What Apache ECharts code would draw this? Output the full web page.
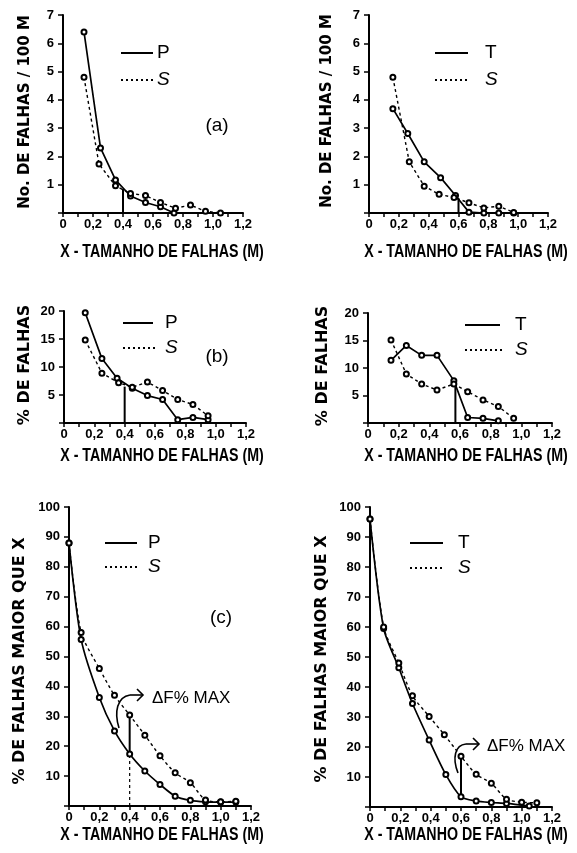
<!DOCTYPE html>
<html><head><meta charset="utf-8">
<script src="https://cdn.jsdelivr.net/npm/echarts@6/dist/echarts.min.js"></script>
<style>html,body{margin:0;padding:0;background:#fff}#c{width:577px;height:853px}</style>
</head><body><div id="c"></div>
<script>
// ---- data ----
const xTickLabels = ['0','0,2','0,4','0,6','0,8','1,0','1,2'];
// (a) No. de falhas / 100 m
const a1P = [[0.14,6.4],[0.25,2.3],[0.35,1.17],[0.45,0.6],[0.55,0.37],[0.65,0.22],[0.74,0]];
const a1S = [[0.14,4.8],[0.24,1.73],[0.35,0.96],[0.45,0.69],[0.55,0.62],[0.65,0.37],[0.75,0.17],[0.85,0.28],[0.95,0.06],[1.05,0]];
const a2T = [[0.16,3.69],[0.26,2.81],[0.37,1.81],[0.48,1.25],[0.58,0.62],[0.67,0.03],[0.77,0],[0.87,0],[0.97,0]];
const a2S = [[0.16,4.8],[0.27,1.81],[0.37,0.95],[0.47,0.66],[0.57,0.55],[0.67,0.36],[0.77,0.18],[0.87,0.24],[0.97,0.02]];
const a1Cut = [[0.4,0],[0.4,0.85]];
const a2Cut = [[0.6,0],[0.6,0.5]];
// (b) % de falhas
const b1P = [[0.14,19.7],[0.25,11.5],[0.35,8.0],[0.45,6.2],[0.55,4.9],[0.65,4.2],[0.75,0.6],[0.85,1.0],[0.95,0.6]];
const b1S = [[0.14,14.8],[0.25,8.9],[0.36,7.2],[0.45,6.4],[0.55,7.3],[0.65,5.8],[0.75,4.2],[0.85,3.3],[0.95,1.3]];
const b2T = [[0.15,11.4],[0.25,14.1],[0.35,12.3],[0.45,12.3],[0.56,7.7],[0.65,1.0],[0.75,0.85],[0.85,0.4]];
const b2S = [[0.15,15.1],[0.25,8.9],[0.35,7.1],[0.45,6.0],[0.56,7.1],[0.65,5.7],[0.75,4.2],[0.85,3.0],[0.95,0.85]];
const b1Cut = [[0.4,0],[0.4,6.5]];
const b2Cut = [[0.57,0],[0.57,7.2]];
// (c) % de falhas maior que X
const c1P = [[0,88],[0.08,55.7],[0.2,36.3],[0.3,25.1],[0.4,17.4],[0.5,11.7],[0.6,7.2],[0.7,3.3],[0.8,1.9],[0.9,1.4],[1.0,1.3],[1.1,1.3]];
const c1S = [[0,88],[0.08,58],[0.2,46],[0.3,37],[0.4,30.4],[0.5,23.7],[0.6,16.8],[0.7,11.1],[0.8,7.8],[0.9,2.0],[1.0,1.4],[1.1,1.6]];
const c2T = [[0,96],[0.09,59.5],[0.19,46.4],[0.28,34.5],[0.39,22.3],[0.5,10.8],[0.6,3.4],[0.7,2.0],[0.8,1.5],[0.9,1.2],[1.05,0.3]];
const c2S = [[0,96],[0.09,60],[0.19,48],[0.28,37.1],[0.39,30.2],[0.49,24.1],[0.6,16.9],[0.7,10.9],[0.8,7.9],[0.9,2.6],[1.0,1.6],[1.1,1.4]];
const c1CutSolid = [[0.4,17.4],[0.4,30]];
const c1CutDash = [[0.4,0],[0.4,17.4]];
const c2Cut = [[0.6,3.4],[0.6,16.9]];
const yMax = [7,7,20,20,100,100];
const yStep = [1,1,5,5,10,10];

// ---- layout ----
const grids = [
  {left:63, top:15, width:180, height:198},
  {left:369, top:15, width:179, height:198},
  {left:64, top:311, width:182, height:112},
  {left:368, top:313, width:184, height:110},
  {left:69, top:507, width:182, height:299},
  {left:370, top:507, width:182, height:300}
];
const tickFont = "'Liberation Sans', Arial, sans-serif";
const titleFont = "'DejaVu Sans', Verdana, sans-serif";

const xAxes = grids.map((g,i)=>({
  type:'value', gridIndex:i, min:0, max:1.2, interval:0.1,
  axisLine:{lineStyle:{color:'#000', width:2}},
  axisTick:{length:4, lineStyle:{color:'#000', width:1.5}},
  splitLine:{show:false},
  axisLabel:{color:'#000', fontFamily:tickFont, fontWeight:'bold', fontSize:13, margin:5,
    formatter:v=>{const k=Math.round(v*10); return k%2===0? xTickLabels[k/2] : '';}}
}));
const yAxes = grids.map((g,i)=>({
  type:'value', gridIndex:i, min:0, max:yMax[i], interval:yStep[i],
  axisLine:{show:true, lineStyle:{color:'#000', width:2}},
  axisTick:{show:true, length:5, lineStyle:{color:'#000', width:1.5}},
  splitLine:{show:false},
  axisLabel:{color:'#000', fontFamily:tickFont, fontWeight:'bold', fontSize:13, margin:9,
    formatter:v=> v===0 ? '' : String(v)}
}));

function ser(data, idx, dashed){
  return {type:'line', data, xAxisIndex:idx, yAxisIndex:idx, smooth: idx>=4 ? 0.25 : false,
    symbol:'emptyCircle', symbolSize:5, animation:false, silent:true,
    lineStyle:{color:'#000', width: dashed?1.4:1.7, type: dashed?[3,3]:'solid'},
    itemStyle:{color:'#000', borderColor:'#000', borderWidth:1}};
}
function cut(data, idx, dashed){
  return {type:'line', data, xAxisIndex:idx, yAxisIndex:idx, symbol:'none', animation:false, silent:true,
    lineStyle:{color:'#000', width: dashed?1.2:2, type: dashed?[3,3]:'solid'}};
}
const series = [
  ser(a1P,0,false), ser(a1S,0,true), cut(a1Cut,0,false),
  ser(a2T,1,false), ser(a2S,1,true), cut(a2Cut,1,false),
  ser(b1P,2,false), ser(b1S,2,true), cut(b1Cut,2,false),
  ser(b2T,3,false), ser(b2S,3,true), cut(b2Cut,3,false),
  ser(c1P,4,false), ser(c1S,4,true), cut(c1CutSolid,4,false), cut(c1CutDash,4,true),
  ser(c2T,5,false), ser(c2S,5,true), cut(c2Cut,5,false)
];

// ---- annotations ----
const G = [];
function txt(t, x, y, font, opt){
  G.push(Object.assign({type:'text', x, y, silent:true,
    style:{text:t, font, fill:'#000', align:'center', verticalAlign:'middle', textAlign:'center', textVerticalAlign:'middle'}}, opt||{}));
}
function vtxt(t, x, y, font){ txt(t, x, y, font, {rotation:Math.PI/2}); }
function ln(x1,y1,x2,y2,dash,w){
  G.push({type:'line', silent:true, shape:{x1,y1,x2,y2}, style:{stroke:'#000', lineWidth:w||2, lineDash: dash?[2,3]:null}});
}
function legend(x1,x2,xt,y1,y2,name1){
  ln(x1,y1,x2,y1,false,2); ln(x1,y2,x2+2,y2,true,2);
  G.push({type:'text', x:xt, y:y1, silent:true, style:{text:name1, font:"19px 'Liberation Sans', Arial, sans-serif", fill:'#000', align:'left', verticalAlign:'middle', textAlign:'left', textVerticalAlign:'middle'}});
  G.push({type:'text', x:xt, y:y2, silent:true, style:{text:'S', font:"italic 19px 'Liberation Sans', Arial, sans-serif", fill:'#000', align:'left', verticalAlign:'middle', textAlign:'left', textVerticalAlign:'middle'}});
}
const xTitle = 'X - TAMANHO DE FALHAS (M)';
const xtFont = "bold 18px 'Liberation Sans', Arial, sans-serif";
const xtOpt = {scaleX:0.79};
txt(xTitle, 162, 252, xtFont, xtOpt); txt(xTitle, 466, 252, xtFont, xtOpt);
txt(xTitle, 162, 456, xtFont, xtOpt); txt(xTitle, 466, 456, xtFont, xtOpt);
txt(xTitle, 162, 835, xtFont, xtOpt); txt(xTitle, 466, 835, xtFont, xtOpt);
vtxt('No. DE FALHAS / 100 M', 25, 112, "bold 15px " + titleFont);
vtxt('No. DE FALHAS / 100 M', 327, 111, "bold 15px " + titleFont);
vtxt('% DE FALHAS', 25, 365, "bold 16px " + titleFont);
vtxt('% DE FALHAS', 323, 366, "bold 16px " + titleFont);
vtxt('% DE FALHAS MAIOR QUE X', 20, 661, "bold 16px " + titleFont);
vtxt('% DE FALHAS MAIOR QUE X', 322, 659, "bold 16px " + titleFont);
legend(121,153,157,53,80,'P');
legend(435,468,485,53,80,'T');
legend(123,153,165,323,348,'P');
legend(465,500,515,325,350,'T');
legend(105,137,148,543,567,'P');
legend(410,443,458,543,568,'T');
const lblFont = "19px 'Liberation Sans', Arial, sans-serif";
txt('(a)', 217, 126, lblFont);
txt('(b)', 217, 357, lblFont);
txt('(c)', 221, 618, lblFont);
// ΔF% MAX arrows
G.push({type:'bezierCurve', silent:true, shape:{x1:119,y1:728,cpx1:114,cpy1:712,cpx2:117,cpy2:697,x2:130,y2:695}, style:{stroke:'#000', lineWidth:1.6, fill:null}});
ln(130,695,143,695,false,1.6);
G.push({type:'polyline', silent:true, shape:{points:[[137,689],[143,695],[137,701]]}, style:{stroke:'#000', lineWidth:1.6, fill:null}});
G.push({type:'text', x:152, y:698, silent:true, style:{text:'ΔF% MAX', font:"17px 'Liberation Sans', Arial, sans-serif", fill:'#000', align:'left', verticalAlign:'middle', textAlign:'left', textVerticalAlign:'middle'}});
G.push({type:'bezierCurve', silent:true, shape:{x1:458,y1:773,cpx1:452,cpy1:758,cpx2:455,cpy2:745,x2:466,y2:744}, style:{stroke:'#000', lineWidth:1.6, fill:null}});
ln(466,744,479,744,false,1.6);
G.push({type:'polyline', silent:true, shape:{points:[[473,738],[479,744],[473,750]]}, style:{stroke:'#000', lineWidth:1.6, fill:null}});
G.push({type:'text', x:487, y:746, silent:true, style:{text:'ΔF% MAX', font:"17px 'Liberation Sans', Arial, sans-serif", fill:'#000', align:'left', verticalAlign:'middle', textAlign:'left', textVerticalAlign:'middle'}});

const chart = echarts.init(document.getElementById('c'), null, {renderer:'canvas'});
chart.setOption({
  backgroundColor:'#fff', animation:false,
  grid: grids, xAxis: xAxes, yAxis: yAxes, series, graphic: G
});
</script></body></html>
